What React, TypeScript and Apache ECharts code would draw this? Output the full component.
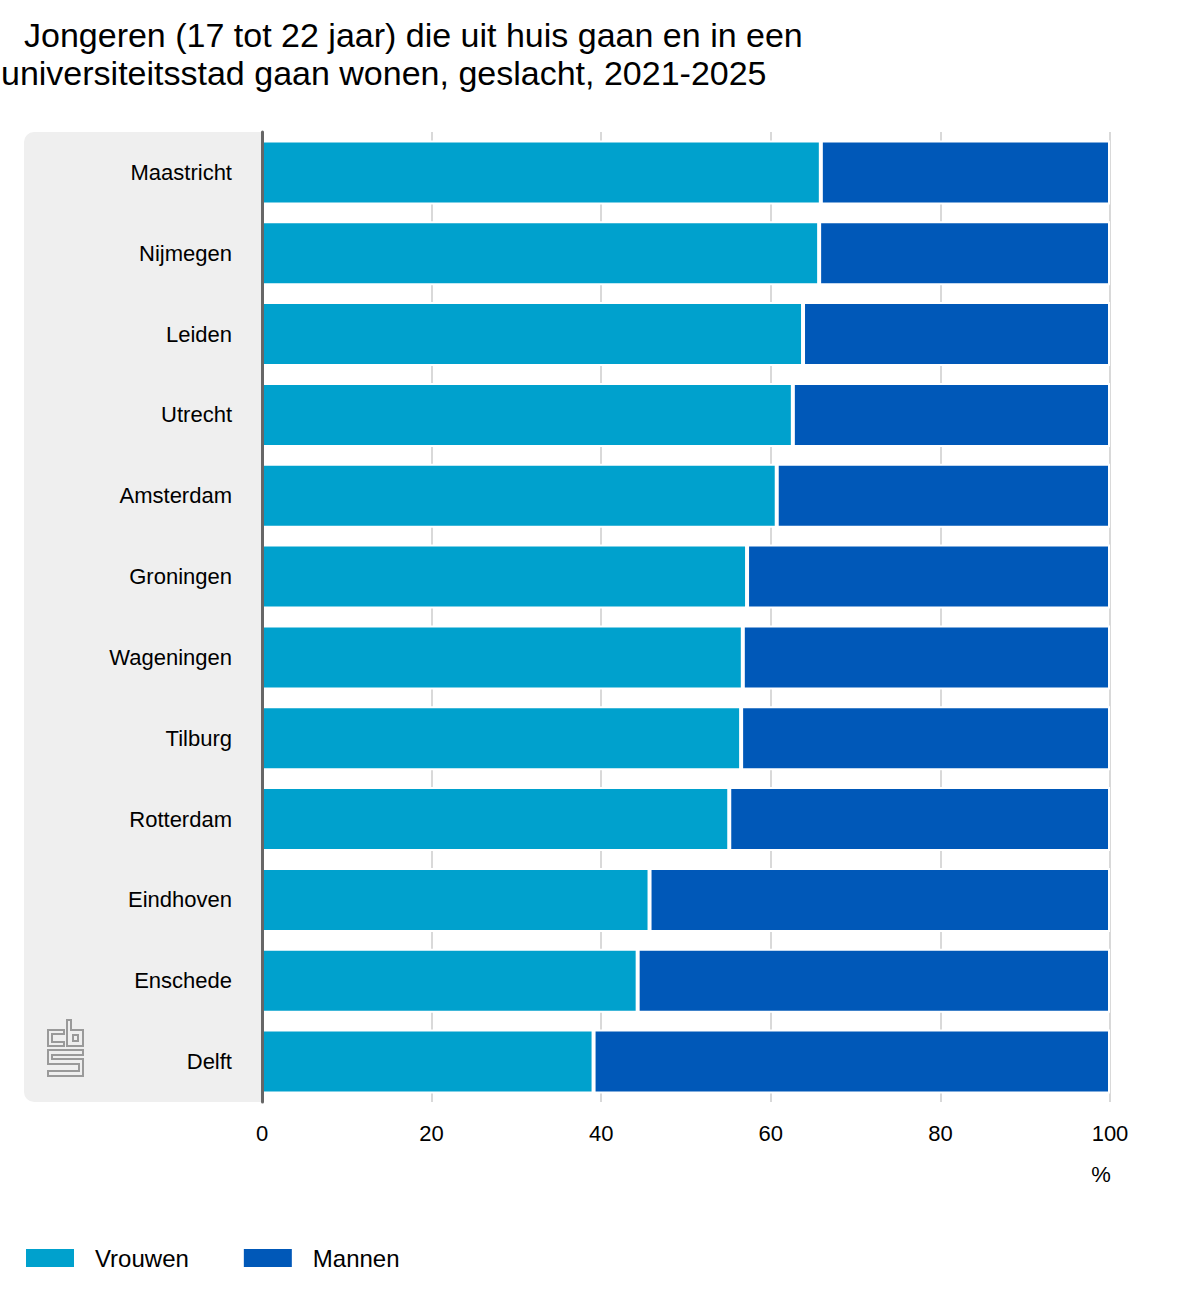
import React, { useEffect, useRef } from "react";
import * as echarts from "echarts";

const titleLines = [
  "Jongeren (17 tot 22 jaar) die uit huis gaan en in een",
  "universiteitsstad gaan wonen, geslacht, 2021-2025",
];
const cities = [
  "Maastricht",
  "Nijmegen",
  "Leiden",
  "Utrecht",
  "Amsterdam",
  "Groningen",
  "Wageningen",
  "Tilburg",
  "Rotterdam",
  "Eindhoven",
  "Enschede",
  "Delft",
];
const vrouwen = [65.9, 65.7, 63.8, 62.6, 60.7, 57.2, 56.7, 56.5, 55.1, 45.7, 44.3, 39.1];
const mannen = [34.1, 34.3, 36.2, 37.4, 39.3, 42.8, 43.3, 43.5, 44.9, 54.3, 55.7, 60.9];
const seriesNames = ["Vrouwen", "Mannen"];
const unitLabel = "%";

const FONT = '"Liberation Sans", Arial, sans-serif';

export default function App() {
  const ref = useRef<HTMLDivElement>(null);
  useEffect(() => {
    if (!ref.current) return;
    const chart = echarts.init(ref.current, undefined, { renderer: "svg" });
    const logoStroke = { stroke: "#9a9a9a", lineWidth: 2, fill: "none" };
    chart.setOption({
      animation: false,
      textStyle: { fontFamily: FONT },
      graphic: [
        {
          type: "rect",
          z: -10,
          shape: { x: 24, y: 132, width: 238, height: 970, r: [10, 0, 0, 10] },
          style: { fill: "#efefef" },
        },
        {
          type: "text",
          x: 24,
          y: 35,
          style: { text: titleLines[0], font: `34px ${FONT}`, fill: "#000", textVerticalAlign: "middle" },
        },
        {
          type: "text",
          x: 1,
          y: 73,
          style: { text: titleLines[1], font: `34px ${FONT}`, fill: "#000", textVerticalAlign: "middle" },
        },
        {
          type: "text",
          x: 1101,
          y: 1174,
          style: { text: unitLabel, font: `22px ${FONT}`, fill: "#000", textAlign: "center", textVerticalAlign: "middle" },
        },
        {
          type: "group",
          z: 5,
          children: [
            {
              type: "polygon",
              shape: { points: [[64, 1030], [48, 1030], [48, 1046], [64, 1046], [64, 1042], [52, 1042], [52, 1034], [64, 1034]] },
              style: logoStroke,
            },
            {
              type: "polygon",
              shape: { points: [[67, 1020], [71, 1020], [71, 1030], [83, 1030], [83, 1046], [67, 1046]] },
              style: logoStroke,
            },
            {
              type: "rect",
              shape: { x: 73, y: 1035, width: 5, height: 6 },
              style: logoStroke,
            },
            {
              type: "polygon",
              shape: {
                points: [
                  [83, 1050], [48, 1050], [48, 1064], [79, 1064], [79, 1071], [48, 1071],
                  [48, 1076], [83, 1076], [83, 1059], [52, 1059], [52, 1055], [83, 1055],
                ],
              },
              style: logoStroke,
            },
          ],
        },
      ],
      legend: {
        left: 24,
        top: 1246,
        padding: 0,
        itemWidth: 50,
        itemHeight: 20,
        itemGap: 53,
        icon: "rect",
        data: seriesNames,
        textStyle: { fontSize: 24, color: "#000", lineHeight: 24, padding: [0, 0, 0, 15], fontFamily: FONT },
      },
      grid: { left: 262, right: 90, top: 132, bottom: 198, containLabel: false },
      xAxis: {
        type: "value",
        min: 0,
        max: 100,
        interval: 20,
        axisLine: { show: false },
        axisTick: { show: false },
        axisLabel: { fontSize: 22, color: "#000", margin: 20, fontFamily: FONT },
        splitLine: { show: true, lineStyle: { color: "#d9d9d9", width: 2 } },
      },
      yAxis: {
        type: "category",
        data: cities,
        inverse: true,
        axisLine: { show: true, lineStyle: { color: "#666", width: 3 } },
        axisTick: { show: false },
        axisLabel: { fontSize: 22, color: "#000", margin: 30, fontFamily: FONT },
        splitLine: { show: false },
        z: 10,
      },
      series: [
        {
          name: seriesNames[0],
          type: "bar",
          stack: "total",
          data: vrouwen,
          barWidth: 64,
          itemStyle: { color: "#00a1cd", borderColor: "#fff", borderWidth: 2 },
        },
        {
          name: seriesNames[1],
          type: "bar",
          stack: "total",
          data: mannen,
          barWidth: 64,
          itemStyle: { color: "#0058b8", borderColor: "#fff", borderWidth: 2 },
        },
      ],
    });
    return () => chart.dispose();
  }, []);
  return (
    <div
      ref={ref}
      style={{ position: "absolute", left: 0, top: 0, width: 1200, height: 1300 }}
    />
  );
}
